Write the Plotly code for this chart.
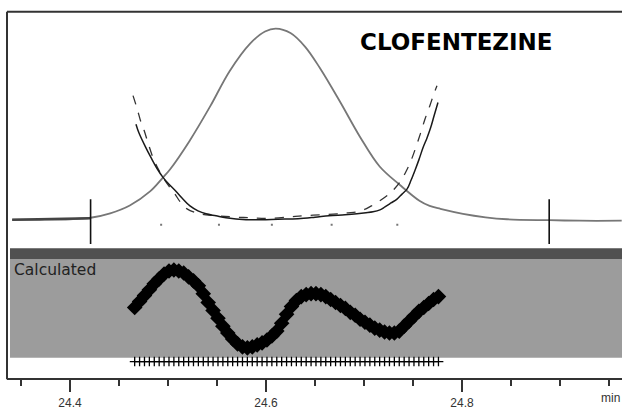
import plotly.graph_objects as go

# ---------------- data ----------------
# Gaussian peak (gray), time in min, intensity (relative units above baseline)
peak_t = [24.341, 24.369, 24.400, 24.421, 24.441, 24.461, 24.482, 24.495, 24.502, 24.522,
          24.543, 24.563, 24.584, 24.599, 24.610, 24.625, 24.640, 24.655, 24.676, 24.696,
          24.716, 24.737, 24.757, 24.767, 24.778, 24.801, 24.824, 24.846, 24.889, 24.920, 24.963]
peak_v = [1, 1, 1.5, 3, 7.5, 15.5, 30, 44, 52, 81,
          116, 152, 180, 192, 195, 190.5, 176.5, 155, 120, 85,
          55, 36, 20, 15, 12, 7, 3.5, 1.5, 0.5, 0, 0]

# dark baseline segment at the left
base_t = [24.341, 24.421]
base_v = [1, 2.5]

# solid U-shaped curve
solid_t = [24.4673, 24.4704, 24.4765, 24.4827, 24.4888, 24.4949, 24.5010, 24.5071, 24.5143, 24.5224,
           24.5306, 24.5388, 24.5490, 24.5592, 24.5796, 24.5959, 24.6122, 24.6327, 24.6500, 24.6643,
           24.6806, 24.6929, 24.7020, 24.7092, 24.7163, 24.7214, 24.7276, 24.7337, 24.7388, 24.7439,
           24.7480, 24.7520, 24.7561, 24.7602, 24.7643, 24.7679, 24.7714, 24.7755]
solid_v = [98, 89, 76, 64, 53, 44, 37, 31, 23, 15,
           10, 7, 5, 3, 1, 1, 1.5, 2, 3.5, 5,
           6, 7, 8, 9, 11, 14, 18, 22, 27, 32,
           41, 51, 62, 74, 84, 94, 106, 120]

# dashed U-shaped curve
dash_t = [24.4643, 24.4684, 24.4724, 24.4755, 24.4796, 24.4847, 24.4898, 24.4949, 24.5010, 24.5071,
          24.5133, 24.5194, 24.5286, 24.5388, 24.5633, 24.5837, 24.6041, 24.6245, 24.6367, 24.6551,
          24.6724, 24.6837, 24.6929, 24.7020, 24.7092, 24.7173, 24.7255, 24.7316, 24.7378, 24.7429,
          24.7480, 24.7531, 24.7578, 24.7622, 24.7673, 24.7714, 24.7745]
dash_v = [127, 114, 100, 92, 79, 64, 53, 44, 35, 27,
          18, 12, 8, 6, 4, 3, 2.5, 4, 5, 6,
          7, 8, 9, 12, 16, 21, 27, 33, 41, 50,
          61, 75, 89, 103, 117, 129, 137]

# integration markers and small dots
mark_t = [24.421, 24.889]
mark_v = [-1, -1]
dot_t = [24.493, 24.552, 24.606, 24.667, 24.734]
dot_v = [-4, -4, -4, -4, -4]

# "Calculated" panel
calc_t = [24.466, 24.471, 24.476, 24.481, 24.486, 24.491, 24.496, 24.501, 24.506, 24.511,
          24.516, 24.521, 24.526, 24.531, 24.536, 24.541, 24.546, 24.551, 24.556, 24.561,
          24.566, 24.571, 24.576, 24.581, 24.586, 24.591, 24.596, 24.601, 24.606, 24.611,
          24.616, 24.621, 24.626, 24.631, 24.636, 24.641, 24.646, 24.651, 24.656, 24.661,
          24.666, 24.671, 24.676, 24.681, 24.686, 24.691, 24.696, 24.701, 24.706, 24.711,
          24.716, 24.721, 24.726, 24.731, 24.736, 24.741, 24.746, 24.751, 24.756, 24.761,
          24.766, 24.771, 24.776]
calc_v = [51, 57, 63, 69, 75, 80, 85, 88, 89, 88,
          86, 82, 78, 73, 65, 56, 48, 40, 32, 25,
          19, 14, 11, 10, 11, 13, 15, 18, 22, 27,
          35, 44, 52, 58, 62, 64, 65, 65, 64, 62,
          59, 56, 53, 50, 46, 43, 39, 36, 33, 30,
          28, 26, 25, 25, 27, 32, 37, 42, 47, 51,
          55, 59, 62]
rug_level = -4

title_text = "CLOFENTEZINE"
panel_label = "Calculated"
unit_label = "min"

# ---------------- figure ----------------
W, H = 622, 410
def py(p):
    return 1 - p / H

fig = go.Figure()

fig.add_trace(go.Scatter(x=peak_t, y=peak_v, mode="lines", line=dict(color="#777777", width=1.8, shape="spline"),
                         xaxis="x", yaxis="y"))
fig.add_trace(go.Scatter(x=base_t, y=base_v, mode="lines", line=dict(color="#444444", width=2.5),
                         xaxis="x", yaxis="y"))
fig.add_trace(go.Scatter(x=dash_t, y=dash_v, mode="lines", line=dict(color="#333333", width=1.3, dash="dash", shape="spline"),
                         xaxis="x", yaxis="y"))
fig.add_trace(go.Scatter(x=solid_t, y=solid_v, mode="lines", line=dict(color="#1a1a1a", width=1.5, shape="spline"),
                         xaxis="x", yaxis="y"))
fig.add_trace(go.Scatter(x=mark_t, y=mark_v, mode="markers",
                         marker=dict(symbol="line-ns", size=32, line=dict(color="#111111", width=1.6)),
                         xaxis="x", yaxis="y"))
fig.add_trace(go.Scatter(x=dot_t, y=dot_v, mode="markers",
                         marker=dict(symbol="square", size=2, color="#777777"),
                         xaxis="x", yaxis="y"))

fig.add_trace(go.Scatter(x=calc_t, y=calc_v, mode="markers",
                         marker=dict(symbol="diamond", size=12, color="black"),
                         xaxis="x", yaxis="y2"))
fig.add_trace(go.Scatter(x=calc_t, y=[rug_level] * len(calc_t), mode="markers",
                         marker=dict(symbol="cross-thin", size=7, line=dict(color="black", width=1.3)),
                         xaxis="x", yaxis="y2"))

shapes = [
    # gray calculated panel
    dict(type="rect", xref="paper", yref="paper", x0=10 / W, x1=1, y0=py(363), y1=py(263),
         fillcolor="#9c9c9c", line=dict(width=0), layer="below"),
    dict(type="rect", xref="paper", yref="paper", x0=10 / W, x1=1, y0=py(263), y1=py(252),
         fillcolor="#505050", line=dict(width=0), layer="below"),
    # frame
    dict(type="line", xref="paper", yref="paper", x0=7 / W, x1=7 / W, y0=py(385), y1=py(12),
         line=dict(color="#333333", width=2)),
    dict(type="line", xref="paper", yref="paper", x0=7 / W, x1=1, y0=py(12), y1=py(12),
         line=dict(color="#333333", width=2)),
]

fig.update_layout(
    width=W, height=H,
    margin=dict(l=0, r=0, t=0, b=0),
    paper_bgcolor="white", plot_bgcolor="rgba(0,0,0,0)",
    showlegend=False,
    shapes=shapes,
    xaxis=dict(domain=[7 / W, 1], range=[24.3357, 24.9633], anchor="free", position=py(385),
               showline=True, linecolor="#333333", linewidth=2, showgrid=False, zeroline=False,
               tickmode="linear", tick0=24.4, dtick=0.2, tickformat=".1f",
               ticks="outside", ticklen=12, tickwidth=2, tickcolor="#333333",
               tickfont=dict(family="Liberation Sans, Arial", size=12, color="#333333"),
               minor=dict(tick0=24.4, dtick=0.05, ticks="outside", ticklen=6, tickwidth=2, tickcolor="#333333",
                          showgrid=False)),
    yaxis=dict(domain=[py(250), py(12)], range=[-26, 212], visible=False, anchor="x"),
    yaxis2=dict(domain=[py(372), py(263)], range=[-9, 100], visible=False, anchor="x"),
    annotations=[
        dict(text=title_text, xref="paper", yref="paper", x=456 / W, y=py(43), xanchor="center", yanchor="middle",
             showarrow=False, font=dict(family="DejaVu Sans", size=23, color="black", weight="bold")),
        dict(text=panel_label, xref="paper", yref="paper", x=12 / W, y=py(274), xanchor="left", yanchor="middle",
             showarrow=False, font=dict(family="DejaVu Sans", size=15.5, color="#222222")),
        dict(text=unit_label, xref="paper", yref="paper", x=610 / W, y=py(404), xanchor="center", yanchor="middle",
             showarrow=False, font=dict(family="Liberation Sans, Arial", size=12, color="#333333")),
    ],
)

fig.write_html("out.html", config={"displayModeBar": False},
               post_script="document.body.style.margin='0px';document.body.style.overflow='hidden';")
